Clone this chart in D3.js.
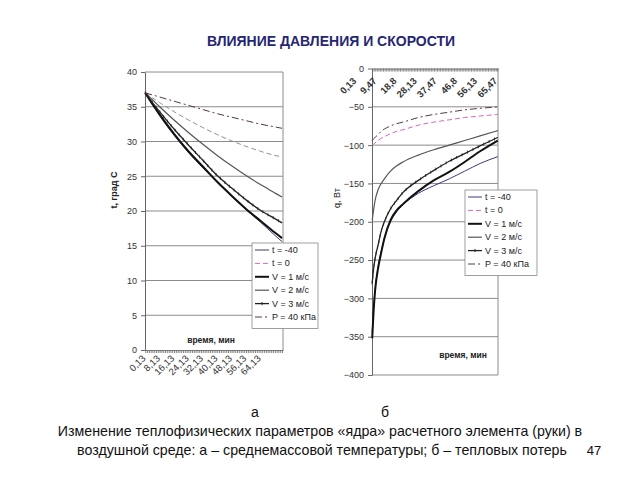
<!DOCTYPE html>
<html><head><meta charset="utf-8">
<script src="https://cdn.jsdelivr.net/npm/d3@7"></script>
<style>
html,body{margin:0;padding:0;background:#fff;}
svg{display:block;font-family:"Liberation Sans",Arial,sans-serif;}
</style></head>
<body><svg id="c" width="640" height="480"></svg>
<script>
// ---------- DATA ----------
const titleText = "ВЛИЯНИЕ ДАВЛЕНИЯ И СКОРОСТИ";
const seriesNames = ["t = -40", "t = 0", "V = 1 м/с", "V = 2 м/с", "V = 3 м/с", "P = 40 кПа"];

// Chart a: mean-mass temperature, град C
const leftTime = [0.13, 4.13, 8.13, 16.13, 24.13, 32.13, 40.13, 48.13, 56.13, 64.13, 72.13, 76.13];
const leftTm40 = [37, 35.3, 33.7, 30.9, 28.4, 26.2, 24.1, 22.1, 20.2, 18.4, 16.5, 15.6];
const leftT0   = [37, 36.3, 35.6, 34.3, 33.1, 32.0, 31.0, 30.1, 29.3, 28.6, 28.0, 27.8];
const leftV1   = [37, 35.4, 33.9, 31.1, 28.6, 26.4, 24.2, 22.2, 20.3, 18.6, 16.9, 16.1];
const leftV2   = [37, 36.0, 35.0, 33.1, 31.3, 29.6, 28.0, 26.5, 25.1, 23.8, 22.6, 22.0];
const leftV3   = [37, 35.6, 34.3, 31.8, 29.5, 27.3, 25.1, 23.3, 21.6, 20.1, 18.9, 18.3];
const leftP40  = [37, 36.7, 36.4, 35.8, 35.2, 34.6, 34.0, 33.5, 33.0, 32.5, 32.1, 31.9];
const leftYTicks = [0, 5, 10, 15, 20, 25, 30, 35, 40];
const leftXTickLabels = ["0,13", "8,13", "16,13", "24,13", "32,13", "40,13", "48,13", "56,13", "64,13"];
const leftXTickValues = [0.13, 8.13, 16.13, 24.13, 32.13, 40.13, 48.13, 56.13, 64.13];

// Chart б: heat losses, Вт
const rightTime = [0.13, 1, 2, 4, 6, 8, 12, 16, 20, 30, 40, 50, 60, 70, 81.47];
const rightTm40 = [-345, -312, -288, -258, -238, -222, -200, -187, -178, -163, -153, -144, -134, -124, -115];
const rightT0   = [-100, -99, -97, -94, -91, -89, -85, -82, -80, -74, -70, -67, -64, -62, -60];
const rightV1   = [-352, -318, -290, -260, -240, -222, -198, -185, -177, -160, -146, -135, -122, -108, -94];
const rightV2   = [-198, -185, -172, -158, -150, -144, -134, -127, -122, -113, -106, -100, -94, -88, -81];
const rightV3   = [-280, -262, -248, -230, -212, -200, -183, -172, -162, -146, -133, -121, -111, -101, -90];
const rightP40  = [-94, -92, -90, -86, -82, -79, -75, -72, -70, -64, -60, -57, -54, -52, -50];
const rightYTicks = [-400, -350, -300, -250, -200, -150, -100, -50, 0];
const rightXTickLabels = ["0,13", "9,47", "18,8", "28,13", "37,47", "46,8", "56,13", "65,47"];

const captionLetters = ["а", "б"];
const captionLine1 = "Изменение теплофизических параметров «ядра» расчетного элемента (руки) в";
const captionLine2 = "воздушной среде: а – среднемассовой температуры; б – тепловых потерь";
const pageNumber = "47";

// ---------- STYLES ----------
const styles = [
  {stroke:"#3a3a80", width:1,   dash:null},      // t=-40
  {stroke:"#d866c0", width:1,   dash:"5,3"},     // t=0
  {stroke:"#111",    width:2,   dash:null},      // V=1
  {stroke:"#555",    width:1.2, dash:null},      // V=2
  {stroke:"#222",    width:1.3, dash:null, marker:true}, // V=3
  {stroke:"#5a3a3a", width:1,   dash:"7,3,2,3"}  // P=40
];

const svg = d3.select("#c");
const gridColor = "#8c8c8c";
const axisColor = "#666";
const tickFont = 9;

svg.append("text").attr("x", 331).attr("y", 46).attr("text-anchor","middle")
  .attr("font-size", 14).attr("font-weight","bold").attr("fill","#262673").text(titleText);

function drawLegend(x, y, w, rowH) {
  const g = svg.append("g");
  g.append("rect").attr("x", x).attr("y", y).attr("width", w).attr("height", rowH*6 + 5)
    .attr("fill","#fff").attr("stroke","#888").attr("stroke-width",0.8);
  seriesNames.forEach((n,i)=>{
    const cy = y + 7 + i*rowH;
    const s = styles[i];
    g.append("line").attr("x1", x+3).attr("x2", x+17).attr("y1", cy).attr("y2", cy)
      .attr("stroke", s.stroke).attr("stroke-width", s.width).attr("stroke-dasharray", s.dash);
    if (s.marker) g.append("line").attr("x1", x+10).attr("x2", x+10).attr("y1", cy-1.5).attr("y2", cy+1.5).attr("stroke", s.stroke);
    g.append("text").attr("x", x+20).attr("y", cy+3).attr("font-size", 9).attr("fill","#222").text(n);
  });
}

function addMarkers(path, s, g) {
  if (!s.marker) return;
  const node = path.node(), L = node.getTotalLength();
  for (let l = 0; l < L; l += 6) {
    const p = node.getPointAtLength(l);
    g.append("line").attr("x1", p.x).attr("x2", p.x).attr("y1", p.y-1.5).attr("y2", p.y+1.5)
      .attr("stroke", s.stroke).attr("stroke-width", 0.8);
  }
}

// ---------- LEFT CHART ----------
{
  const x = d3.scaleLinear().domain([0, 76.67]).range([145, 283]);
  const y = d3.scaleLinear().domain([0, 40]).range([350, 72]);
  const g = svg.append("g");
  leftYTicks.filter(v=>v>0).forEach(v=>{
    g.append("line").attr("x1", x(0)).attr("x2", x(76.67)).attr("y1", y(v)).attr("y2", y(v))
      .attr("stroke", gridColor).attr("stroke-width", 1);
  });
  g.append("line").attr("x1", x(76.67)).attr("x2", x(76.67)).attr("y1", y(0)).attr("y2", y(40))
    .attr("stroke", gridColor);
  const ya = g.append("g").attr("transform", `translate(${x(0)},0)`)
    .call(d3.axisLeft(y).tickValues(leftYTicks).tickSize(4).tickPadding(4).tickSizeOuter(0));
  ya.selectAll("text").attr("font-size", tickFont).attr("fill","#333").attr("font-family","Liberation Sans, Arial");
  ya.selectAll("line,path").attr("stroke", axisColor);
  const xa = g.append("g").attr("transform", `translate(0,${y(0)})`)
    .call(d3.axisBottom(x).tickValues(d3.range(0.13, 76.5, 1)).tickSize(3).tickFormat("").tickSizeOuter(0));
  xa.selectAll("line,path").attr("stroke", axisColor).attr("stroke-width",0.8);
  leftXTickValues.forEach((v,i)=>{
    g.append("text").attr("transform", `translate(${x(v)+1},${y(0)+9}) rotate(-45)`)
      .attr("text-anchor","end").attr("font-size", 9.5).attr("fill","#333").text(leftXTickLabels[i]);
  });
  g.append("text").attr("transform", `translate(117,190) rotate(-90)`).attr("text-anchor","middle")
    .attr("font-size", 9).attr("font-weight","bold").attr("fill","#222").text("t, град С");
  g.append("text").attr("x", 211).attr("y", 343).attr("text-anchor","middle")
    .attr("font-size", 8.5).attr("font-weight","bold").attr("fill","#222").text("время, мин");
  const data = [leftTm40, leftT0, leftV1, leftV2, leftV3, leftP40];
  const line = d3.line().x((d,i)=>x(leftTime[i])).y(d=>y(d)).curve(d3.curveMonotoneX);
  data.forEach((arr,k)=>{
    const s = styles[k];
    const p = g.append("path").datum(arr).attr("d", line).attr("fill","none")
      .attr("stroke", k===1 ? "#a08a9a" : s.stroke).attr("stroke-width", s.width).attr("stroke-dasharray", s.dash);
    addMarkers(p, s, g);
  });
  drawLegend(252, 243, 66, 13.4);
}

// ---------- RIGHT CHART ----------
{
  const x = d3.scaleLinear().domain([0, 81.6]).range([372, 498]);
  const y = d3.scaleLinear().domain([-400, 0]).range([375, 68.5]);
  const g = svg.append("g");
  rightYTicks.filter(v=>v<0).forEach(v=>{
    g.append("line").attr("x1", x(0)).attr("x2", x(81.6)).attr("y1", y(v)).attr("y2", y(v))
      .attr("stroke", gridColor);
  });
  g.append("line").attr("x1", x(81.6)).attr("x2", x(81.6)).attr("y1", y(0)).attr("y2", y(-400))
    .attr("stroke", gridColor);
  const ya = g.append("g").attr("transform", `translate(${x(0)},0)`)
    .call(d3.axisLeft(y).tickValues(rightYTicks).tickSize(4).tickPadding(4).tickSizeOuter(0));
  ya.selectAll("text").attr("font-size", tickFont).attr("fill","#333").attr("font-family","Liberation Sans, Arial");
  ya.selectAll("line,path").attr("stroke", axisColor);
  const xa = g.append("g").attr("transform", `translate(0,${y(0)})`)
    .call(d3.axisBottom(x).tickValues(d3.range(0.13, 81.5, 1)).tickSize(3).tickFormat("").tickSizeOuter(0));
  xa.selectAll("line,path").attr("stroke", axisColor).attr("stroke-width",0.8);
  const lx = d3.scalePoint().domain(rightXTickLabels).range([357, 498]);
  rightXTickLabels.forEach(l=>{
    g.append("text").attr("transform", `translate(${lx(l)},${y(0)+13}) rotate(-45)`)
      .attr("text-anchor","end").attr("font-size", 9.5).attr("font-weight","bold").attr("fill","#333").text(l);
  });
  g.append("text").attr("transform", `translate(340,198) rotate(-90)`).attr("text-anchor","middle")
    .attr("font-size", 9).attr("fill","#222").text("q, Вт");
  g.append("text").attr("x", 463).attr("y", 358).attr("text-anchor","middle")
    .attr("font-size", 8.5).attr("font-weight","bold").attr("fill","#222").text("время, мин");
  const data = [rightTm40, rightT0, rightV1, rightV2, rightV3, rightP40];
  const line = d3.line().x((d,i)=>x(rightTime[i])).y(d=>y(d)).curve(d3.curveMonotoneX);
  data.forEach((arr,k)=>{
    const s = styles[k];
    const p = g.append("path").datum(arr).attr("d", line).attr("fill","none")
      .attr("stroke", s.stroke).attr("stroke-width", s.width).attr("stroke-dasharray", s.dash);
    addMarkers(p, s, g);
  });
  drawLegend(465, 190, 72, 13.4);
}

// ---------- CAPTION ----------
svg.append("text").attr("x", 255).attr("y", 417).attr("text-anchor","middle").attr("font-size",14).attr("fill","#111").text(captionLetters[0]);
svg.append("text").attr("x", 385).attr("y", 417).attr("text-anchor","middle").attr("font-size",14).attr("fill","#111").text(captionLetters[1]);
svg.append("text").attr("x", 320).attr("y", 436).attr("text-anchor","middle").attr("font-size",14.2).attr("fill","#111").text(captionLine1);
svg.append("text").attr("x", 322).attr("y", 455).attr("text-anchor","middle").attr("font-size",14.2).attr("fill","#111").text(captionLine2);
svg.append("text").attr("x", 594).attr("y", 455).attr("text-anchor","middle").attr("font-size",13).attr("fill","#111").text(pageNumber);
</script></body></html>
